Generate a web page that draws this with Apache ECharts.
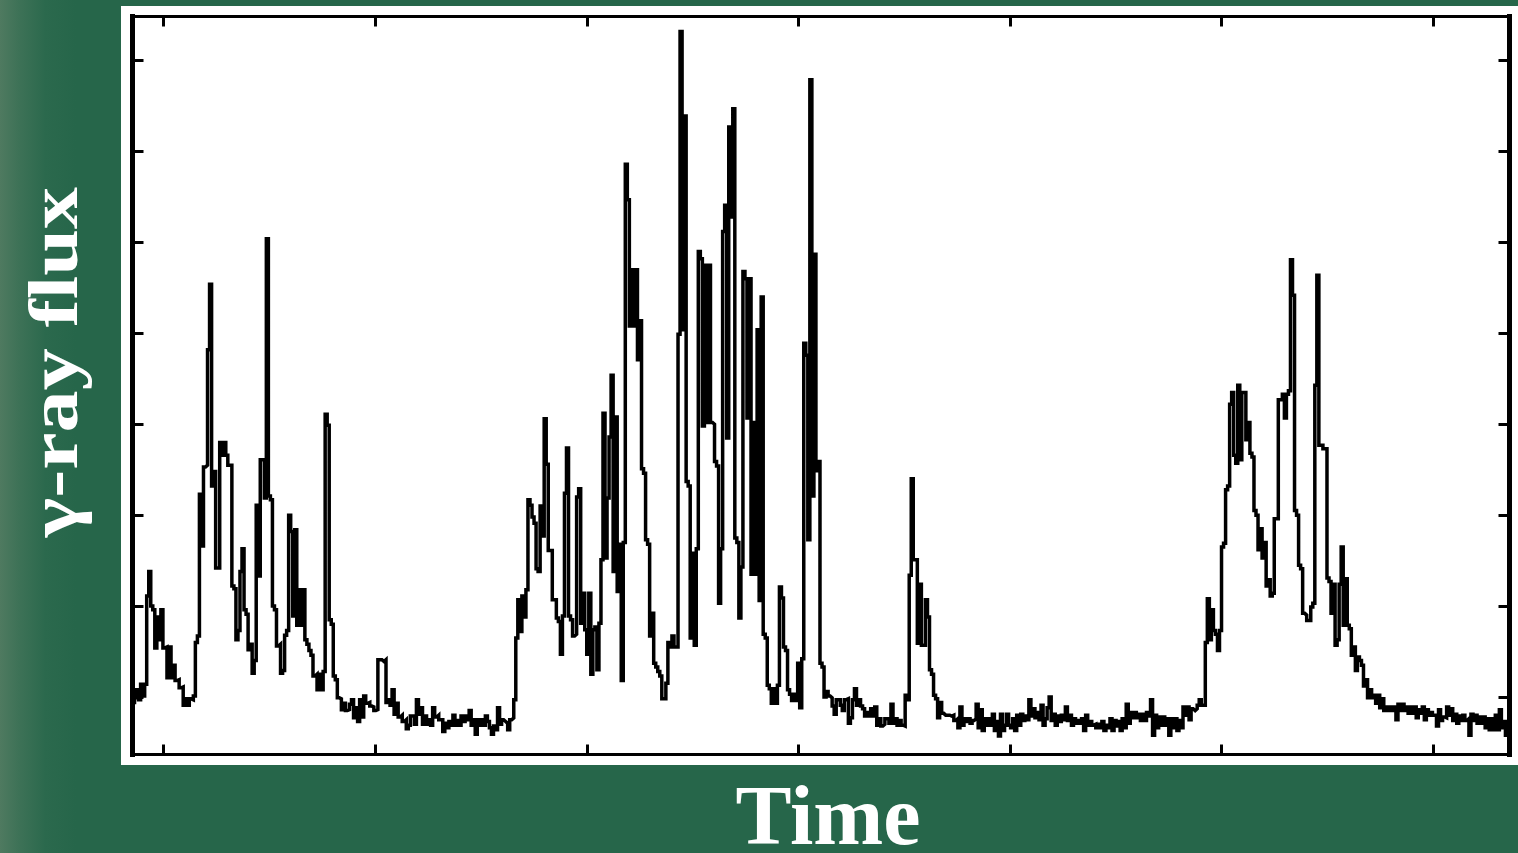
<!DOCTYPE html>
<html>
<head>
<meta charset="utf-8">
<title>gamma-ray light curve</title>
<script src="https://cdn.jsdelivr.net/npm/echarts@6/dist/echarts.min.js"></script>
<style>
  html, body { margin: 0; padding: 0; width: 1518px; height: 853px; overflow: hidden; background: #26664a; }
  #chart { width: 1518px; height: 853px; }
</style>
</head>
<body>
<div id="chart"></div>
<script>
// ---- data (flux, arbitrary units; half-week bins) ----
const binDays = 3.5;
const fluxA = [9.4,9.9, 10.8,9.7, 11.4,10.1, 11.4,21.1, 23.8,20.0, 19.6,15.4, 18.8,16.3, 19.6,15.4, 15.5,12.1, 15.5,12.1,
  13.5,11.8, 11.9,11.0, 11.1,9.1, 9.8,9.1, 9.8,9.7, 10.1,16.0, 16.7,32.3, 26.6,35.3, 35.5,48.2, 55.4,33.2,
  34.8,24.2, 24.2,38.0, 36.6,38.0, 36.6,35.5, 35.5,22.2, 21.9,16.3, 17.3,23.8, 26.3,19.6, 19.1,15.2, 15.8,12.6,
  14.0,31.1, 23.3,36.1, 36.1,31.9, 60.4,32.1, 31.7,20.0, 19.6,15.6, 15.8,12.6, 12.9,16.8, 17.3,30.0, 28.2,18.9,
  28.4,17.9, 21.8,17.9, 21.8,16.3, 15.8,15.1, 14.6,12.3, 12.5,10.8, 12.5,10.8, 12.8,41.1, 39.9,18.5, 18.0,12.3,
  11.9,9.9, 9.8,8.6, 9.3,8.5, 8.6,9.2, 9.7,7.7, 8.8,7.3, 9.7,7.8, 10.1,9.3, 9.4,9.0, 8.9,8.5,
  8.6,14.1, 14.1,13.9, 14.1,9.4, 9.7,9.1, 10.8,8.1, 9.3,7.8, 8.0,7.3, 7.5,6.5, 6.9,7.9, 7.9,7.0,
  9.7,8.1, 8.8,7.0, 7.9,7.0, 7.5,6.9, 8.8,7.8, 8.0,7.5, 7.5,6.2, 7.1,6.6, 7.3,6.9, 8.0,6.9,
  7.4,6.9, 7.9,7.3, 7.9,7.5, 8.5,6.9, 7.5,5.9];
const fluxB = [7.5,6.9, 7.5,6.9, 7.9,7.3, 6.6,5.9, 6.8,6.4, 8.8,7.0, 7.5,7.3, 7.1,6.4, 7.5,7.7, 9.7,16.5,
  20.7,17.2, 21.1,18.8, 21.8,31.7, 31.1,29.8, 29.1,24.1, 23.8,31.0, 27.7,40.6, 35.6,26.1, 26.1,20.7, 20.7,18.7,
  18.3,14.7, 18.9,32.4, 37.4,18.9, 18.5,16.7, 16.9,32.0, 32.9,18.1, 21.4,17.4, 14.7,21.4, 12.5,17.4, 17.7,13.0,
  18.1,25.1, 41.2,25.3, 31.9,38.6, 45.4,23.8, 40.8,21.6, 26.8,11.8, 27.0,68.6, 64.7,50.8, 57.0,50.8, 57.0,47.1,
  51.4,35.1, 34.6,27.3, 26.8,16.7, 19.2,13.7, 13.3,12.8, 12.3,9.8, 9.8,11.5, 16.0,15.5, 16.7,15.5, 15.5,49.9,
  83.2,50.4, 73.9,33.7, 33.2,16.5, 25.8,15.7, 26.3,59.0, 58.2,39.8, 57.5,40.2, 57.5,40.2, 40.0,35.9, 35.4,20.3,
  26.3,61.2, 64.1,38.5, 72.7,62.8, 74.7,27.5, 27.0,18.7, 24.3,56.8, 56.0,40.7, 56.0,23.5, 40.2,23.5, 50.4,20.6,
  54.0,16.9, 16.5,11.3, 10.9,9.3, 10.9,9.3, 11.3,22.1, 20.9,15.5, 15.1,10.8, 10.3,9.6, 10.3,9.6, 13.7,8.8,
  14.2,48.9, 47.6,27.3, 77.9,32.1, 58.7,34.9, 35.9,13.7];
const fluxC = [13.3,10.0, 10.6,10.1, 9.9,9.0, 8.1,9.7, 9.7,9.1, 8.5,9.7, 9.8,7.1, 7.7,9.7, 10.9,9.1, 9.7,9.0,
  8.7,7.9, 8.3,7.9, 8.7,7.9, 8.9,6.9, 7.6,6.8, 7.0,7.6, 7.6,7.1, 9.2,7.1, 7.6,6.9, 7.4,6.9,
  6.8,10.2, 9.7,23.4, 34.0,25.1, 25.1,15.9, 22.4,15.7, 15.7,20.7, 18.8,13.0, 12.5,10.2, 9.8,7.7, 9.4,8.2,
  8.0,8.0, 8.0,7.9, 8.0,7.4, 7.6,6.6, 8.9,6.9, 7.6,7.3, 7.6,7.1, 7.4,7.6, 9.2,6.6, 8.6,6.3,
  7.6,6.9, 7.6,6.9, 8.1,6.3, 7.3,5.7, 8.1,6.3, 6.9,8.1, 6.9,6.6, 7.6,6.3, 8.0,6.9, 8.1,7.4,
  7.9,7.5, 9.7,7.9, 8.7,7.7, 8.3,7.5, 9.1,6.9, 7.6,8.8, 10.0,7.4, 8.1,6.9, 7.9,7.3, 8.0,7.5,
  8.9,7.4, 8.0,6.9, 7.6,7.1, 7.4,7.1, 7.6,6.3, 8.0,6.9, 7.3,6.9, 7.0,6.6, 7.0,6.6, 7.3,6.3,
  6.9,6.6, 7.6,6.3, 7.4,6.8, 7.3,6.3, 7.6,6.6, 9.2,7.1, 8.3,7.7, 8.3,7.7, 8.1,7.4, 8.1,7.4,
  8.3,7.9, 9.7,5.8, 8.0,6.6, 7.8,6.9, 7.8,6.9];
const fluxD = [7.6,5.8, 7.6,6.6, 7.6,6.3, 7.4,6.6, 8.9,8.0, 8.9,7.5, 8.7,8.5, 8.7,9.1, 9.7,9.1, 9.1,16.0,
  20.8,16.3, 19.6,17.3, 16.9,15.1, 17.3,26.5, 26.9,32.8, 33.2,42.2, 43.5,36.6, 35.7,44.3, 36.1,43.5, 43.5,38.3,
  40.2,36.8, 36.4,30.5, 30.0,26.2, 28.5,25.3, 27.0,22.2, 22.9,21.1, 21.4,29.6, 29.6,42.7, 42.7,43.3, 40.7,43.3,
  43.7,58.1, 54.2,30.5, 30.0,24.5, 24.1,19.2, 19.0,18.4, 18.4,19.9, 20.3,44.3, 56.4,37.7, 37.7,37.3, 37.3,23.1,
  22.7,19.2, 22.4,15.7, 16.3,22.4, 26.5,17.9, 23.0,17.9, 17.5,14.6, 15.5,12.9, 14.4,14.0, 13.5,11.2, 11.9,9.9,
  10.8,9.9, 10.2,9.3, 10.2,8.8, 9.8,8.5, 8.9,8.5, 8.9,8.5, 8.9,7.5, 9.2,8.5, 9.2,8.5, 8.9,8.2,
  8.9,8.2, 8.9,7.7, 8.6,8.2, 8.9,7.5, 8.6,8.0, 8.3,8.0, 8.0,6.8, 8.6,7.4, 7.8,7.7, 8.9,8.0,
  8.7,7.4, 8.1,7.1, 7.9,7.4, 8.0,7.4, 7.6,5.8, 8.1,7.4, 8.0,7.1, 7.8,7.1, 7.8,6.6, 7.6,6.4,
  7.6,6.4, 8.0,6.4, 8.6,6.6, 7.3,5.8, 6.4];

// axis ticks (no labels in the original)
const xTickDays = [53.5, 418.75, 784, 1149.25, 1514.5, 1879.75, 2245];
const yTickValues = [10, 20, 30, 40, 50, 60, 70, 80];
const yMin = 3.67, yMax = 84.86;

const xTitle = 'Time';
const yTitle = 'γ-ray flux';

// ---- build ----
const flux = [].concat(fluxA, fluxB, fluxC, fluxD);
const points = flux.map((v, i) => [i * binDays, v]);
points.push([flux.length * binDays, flux[flux.length - 1]]);
const xMax = flux.length * binDays;

const chart = echarts.init(document.getElementById('chart'), null, { renderer: 'canvas' });

function xAx(pos, w) {
  return {
    type: 'value', position: pos, min: 0, max: xMax,
    axisLine: { show: true, onZero: false, lineStyle: { color: '#000', width: w, cap: 'square' } },
    axisTick: { show: true, inside: true, length: 10, customValues: xTickDays, lineStyle: { color: '#000', width: 3 } },
    axisLabel: { show: false }, splitLine: { show: false }
  };
}
function yAx(pos, w) {
  return {
    type: 'value', position: pos, min: yMin, max: yMax,
    axisLine: { show: true, onZero: false, lineStyle: { color: '#000', width: w, cap: 'square' } },
    axisTick: { show: true, inside: true, length: 11, customValues: yTickValues, lineStyle: { color: '#000', width: 3 } },
    axisLabel: { show: false }, splitLine: { show: false }
  };
}

chart.setOption({
  animation: false,
  backgroundColor: {
    type: 'linear', x: 0, y: 0, x2: 1, y2: 0,
    colorStops: [
      { offset: 0, color: '#4f7a60' },
      { offset: 0.012, color: '#3e7257' },
      { offset: 0.03, color: '#2b694d' },
      { offset: 0.05, color: '#26664a' },
      { offset: 1, color: '#26664a' }
    ]
  },
  grid: { left: 132.5, right: 8.5, top: 16.5, bottom: 98.5, containLabel: false },
  xAxis: [xAx('bottom', 3), xAx('top', 3)],
  yAxis: [yAx('left', 5), yAx('right', 5)],
  graphic: [
    { type: 'rect', z: -10, shape: { x: 121, y: 6, width: 1397, height: 759 }, style: { fill: '#ffffff' } },
    { type: 'text', z: 100, x: 828, y: 822, style: { text: xTitle, fill: '#ffffff', font: 'bold 84px "Liberation Serif"', align: 'center', verticalAlign: 'middle' } },
    { type: 'text', z: 100, x: 59, y: 362, rotation: Math.PI / 2, scaleX: 1.22, scaleY: 1,
      style: { text: yTitle, fill: '#ffffff', font: 'bold 69px "Liberation Serif"', align: 'center', verticalAlign: 'middle' } }
  ],
  series: [{
    type: 'line', step: 'end', data: points, xAxisIndex: 0, yAxisIndex: 0,
    symbol: 'none', clip: true,
    lineStyle: { color: '#000', width: 3.5, join: 'miter' }
  }]
});
</script>
</body>
</html>
